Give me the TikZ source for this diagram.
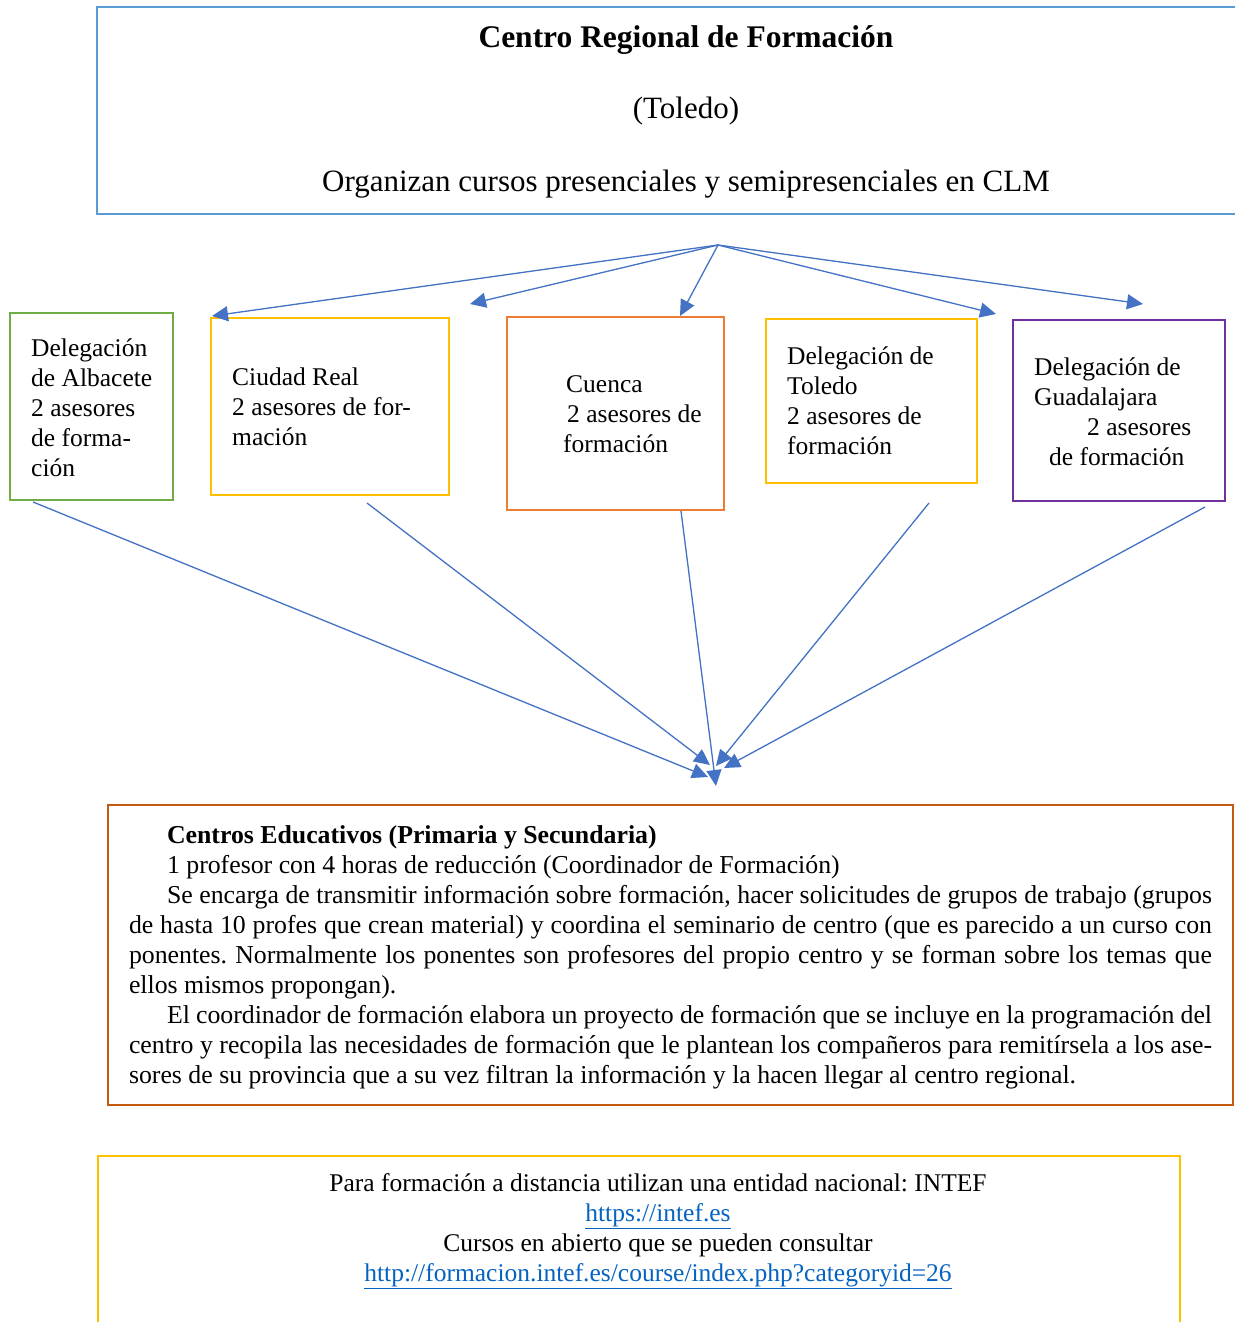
\documentclass[tikz,border=0pt]{standalone}
\usepackage{fontspec}
\setmainfont{Liberation Serif}
\usetikzlibrary{arrows.meta}
\frenchspacing
\definecolor{hdrblue}{HTML}{5B9BD5}
\definecolor{grn}{HTML}{70AD47}
\definecolor{ylw}{HTML}{FFC000}
\definecolor{org}{HTML}{ED7D31}
\definecolor{prp}{HTML}{7030A0}
\definecolor{rust}{HTML}{C55A11}
\definecolor{arrblue}{HTML}{4472C4}
\definecolor{linkblue}{HTML}{0563C1}
\begin{document}
\begin{tikzpicture}[x=1pt,y=-1pt,
  frame/.style={draw, line width=2.8pt, inner sep=0pt},
  body/.style={font=\fontsize{25.5}{30}\selectfont, inner sep=0pt, align=left},
  big/.style={font=\fontsize{31}{36}\selectfont, inner sep=0pt},
  arr/.style={draw=arrblue, line width=1.3pt, -{Triangle[length=16pt,width=15pt]}, fill=arrblue}]
\useasboundingbox (0,0) rectangle (1234,1322);

% regional centre
\node[frame, draw=hdrblue, minimum width=1143pt, minimum height=207pt] (crf) at (668.5,110.5) {};
\node[big, font=\fontsize{31.5}{36}\selectfont\bfseries] (crftitle) at (686,40) {Centro Regional de Formación};
\node[big] (crfcity) at (686,111) {(Toledo)};
\node[big] (crfdesc) at (686,184) {Organizan cursos presenciales y semipresenciales en CLM};

% provincial delegations
\node[frame, draw=grn, minimum width=163pt, minimum height=187pt] (ab) at (91.5,406.5) {};
\node[body, anchor=west] (abt) at (31,408) {Delegación\\de Albacete\\2 asesores\\de forma-\\ción};

\node[frame, draw=ylw, minimum width=238pt, minimum height=177pt] (cr) at (330,406.5) {};
\node[body, anchor=west] (crt) at (232,407) {Ciudad Real\\2 asesores de for-\\mación};

\node[frame, draw=org, minimum width=217pt, minimum height=193pt] (cu) at (615.5,413.5) {};
\node[body, anchor=west] (cut) at (563,414) {\hspace*{3pt}Cuenca\\\hspace*{4pt}2 asesores de\\formación};

\node[frame, draw=ylw, minimum width=211pt, minimum height=164pt] (to) at (871.5,401) {};
\node[body, anchor=west] (tot) at (787,401) {Delegación de\\Toledo\\2 asesores de\\formación};

\node[frame, draw=prp, minimum width=212pt, minimum height=181pt] (gu) at (1119,410.5) {};
\node[body, anchor=west] (gut) at (1034,412) {Delegación de\\Guadalajara\\\hspace*{53pt}2 asesores\\\hspace*{15pt}de formación};

% schools
\node[frame, draw=rust, line width=2.4pt, minimum width=1125pt, minimum height=300pt] (ce) at (670.5,955) {};
\node[body, font=\fontsize{25.8}{30}\selectfont, text width=1083pt, align=justify] (cet) at (670.5,957) {%
\hspace*{38pt}\textbf{Centros Educativos (Primaria y Secundaria)}\par
\hspace*{38pt}1 profesor con 4 horas de reducción (Coordinador de Formación)\par
\hspace*{38pt}Se encarga de transmitir información sobre formación, hacer solicitudes de grupos de trabajo (grupos \linebreak
de hasta 10 profes que crean material) y coordina el seminario de centro (que es parecido a un curso con \linebreak
ponentes. Normalmente los ponentes son profesores del propio centro y se forman sobre los temas que \linebreak
ellos mismos propongan).\par
\hspace*{38pt}El coordinador de formación elabora un proyecto de formación que se incluye en la programación del \linebreak
centro y recopila las necesidades de formación que le plantean los compañeros para remitírsela a los ase-\linebreak
sores de su provincia que a su vez filtran la información y la hacen llegar al centro regional.\par};

% distance learning
\node[frame, draw=ylw, minimum width=1082pt, minimum height=184pt] (dl) at (639,1248) {};
\node[body, align=center] (dlt) at (658,1231) {Para formación a distancia utilizan una entidad nacional: INTEF\\
{\color{linkblue}\underline{https://intef.es}}\\
Cursos en abierto que se pueden consultar\\
{\color{linkblue}\underline{http://formacion.intef.es/course/index.php?categoryid=26}}};

% fan-out from the regional centre
\coordinate (hub) at (718,245);
\coordinate (a1) at (212,316);
\coordinate (a2) at (470,304);
\coordinate (a3) at (680,316);
\coordinate (a4) at (996,314);
\coordinate (a5) at (1143,304);
\foreach \t in {a1,a2,a3,a4,a5} \draw[arr] (hub) -- (\t);

% fan-in towards the schools
\coordinate (s1) at (33,502);
\coordinate (s2) at (367,503);
\coordinate (s3) at (681,511);
\coordinate (s4) at (929,503);
\coordinate (s5) at (1205,507);
\coordinate (d1) at (708,777);
\coordinate (d2) at (710,765);
\coordinate (d3) at (716,786);
\coordinate (d4) at (716,766);
\coordinate (d5) at (724,768);
\draw[arr] (s1) -- (d1);
\draw[arr] (s2) -- (d2);
\draw[arr] (s3) -- (d3);
\draw[arr] (s4) -- (d4);
\draw[arr] (s5) -- (d5);
\end{tikzpicture}
\end{document}
